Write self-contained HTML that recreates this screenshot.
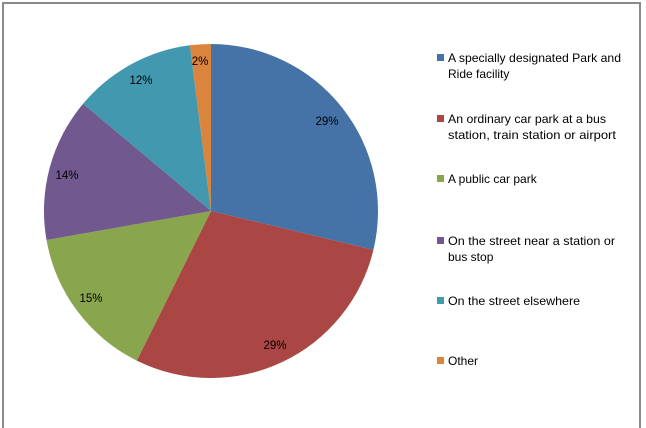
<!DOCTYPE html>
<html><head><style>html,body{margin:0;padding:0;background:#fff}svg{display:block}</style></head>
<body>
<svg width="646" height="428" xmlns="http://www.w3.org/2000/svg" font-family="Liberation Sans, sans-serif">
<rect width="646" height="428" fill="#fff"/>
<path d="M3,430 V3 H640 V430" fill="none" stroke="#8a8a8a" stroke-width="2"/>
<g transform="translate(211,211)" stroke="none">
<path d="M0,0 L0,-167 A167,167 0 0 1 162.4,38.9 Z" fill="#4572A7"/>
<path d="M0,0 L162.4,38.9 A167,167 0 0 1 -74.2,149.6 Z" fill="#AA4643"/>
<path d="M0,0 L-74.2,149.6 A167,167 0 0 1 -164.5,29.0 Z" fill="#89A54E"/>
<path d="M0,0 L-164.5,29.0 A167,167 0 0 1 -127.9,-107.3 Z" fill="#71588F"/>
<path d="M0,0 L-127.9,-107.3 A167,167 0 0 1 -21.1,-165.7 Z" fill="#4198AF"/>
<path d="M0,0 L-21.1,-165.7 A167,167 0 0 1 0,-167 Z" fill="#DB843D"/>
</g>
<g font-size="11.5" fill="#000" text-anchor="middle">
<text x="327" y="125">29%</text>
<text x="275" y="349">29%</text>
<text x="91" y="302">15%</text>
<text x="67" y="179">14%</text>
<text x="141" y="84">12%</text>
<text x="200" y="65">2%</text>
</g>
<g>
<rect x="437" y="54" width="7" height="7" fill="#4572A7"/>
<rect x="437" y="115" width="7" height="7" fill="#AA4643"/>
<rect x="437" y="175" width="7" height="7" fill="#89A54E"/>
<rect x="437" y="237" width="7" height="7" fill="#71588F"/>
<rect x="437" y="297" width="7" height="7" fill="#4198AF"/>
<rect x="437" y="357" width="7" height="7" fill="#DB843D"/>
</g>
<g font-size="12" fill="#000">
<text x="448" y="62" textLength="173" lengthAdjust="spacingAndGlyphs">A specially designated Park and</text>
<text x="448" y="78">Ride facility</text>
<text x="448" y="123" textLength="158" lengthAdjust="spacingAndGlyphs">An ordinary car park at a bus</text>
<text x="448" y="139" textLength="168" lengthAdjust="spacingAndGlyphs">station, train station or airport</text>
<text x="448" y="183">A public car park</text>
<text x="448" y="245" textLength="167" lengthAdjust="spacingAndGlyphs">On the street near a station or</text>
<text x="448" y="261">bus stop</text>
<text x="448" y="305" textLength="132" lengthAdjust="spacingAndGlyphs">On the street elsewhere</text>
<text x="448" y="365">Other</text>
</g>
</svg>
</body></html>
